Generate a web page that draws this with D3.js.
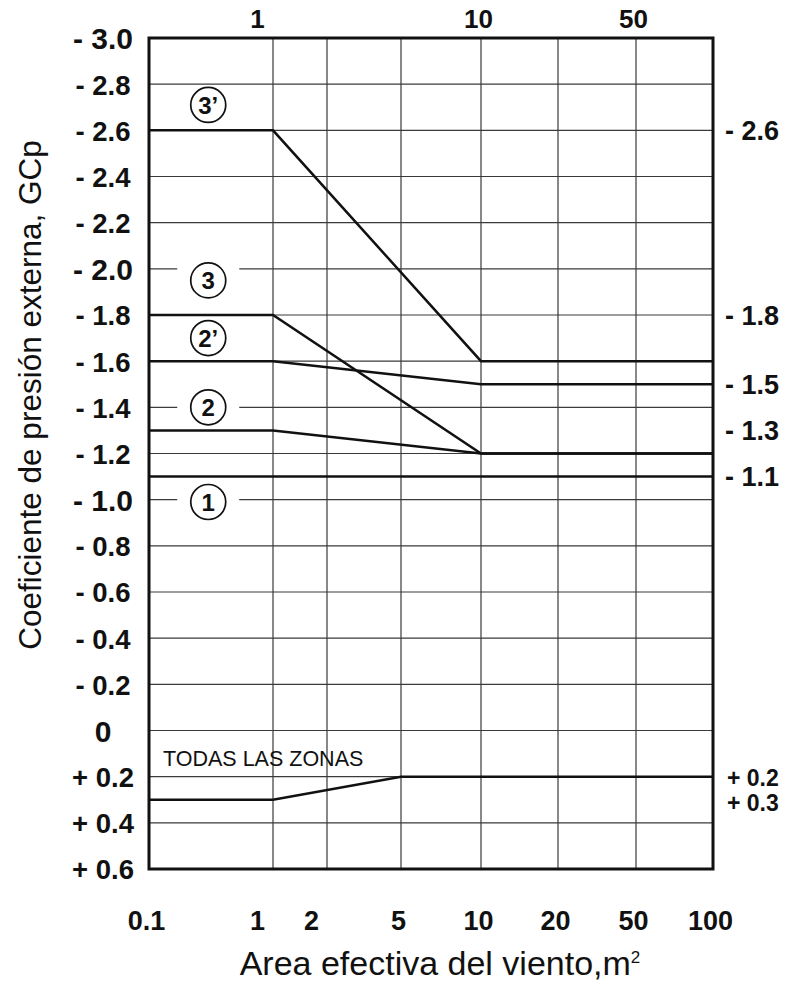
<!DOCTYPE html>
<html>
<head>
<meta charset="utf-8">
<script src="https://cdn.jsdelivr.net/npm/d3@7"></script>
<style>
  body { margin: 0; background: #fff; }
  text { font-family: "Liberation Sans", Arial, sans-serif; fill: #111; }
</style>
</head>
<body>
<script>

// tick values
var xTicks = [0.1, 1, 2, 5, 10, 20, 50, 100];
var xTopTicks = [1, 10, 50];
var yTicks = [-3.0, -2.8, -2.6, -2.4, -2.2, -2.0, -1.8, -1.6, -1.4, -1.2, -1.0,
              -0.8, -0.6, -0.4, -0.2, 0, 0.2, 0.4, 0.6];
var yMajor = [-3.0, -2.0, -1.0, 0];
var rightLabels = [-2.6, -1.8, -1.5, -1.3, -1.1];
var rightLabelsLow = [0.2, 0.3];

// zones: GCp at area 0.1, 1, 10, 100 (m2)
var zoneNames = ["3’", "3", "2’", "2", "1"];
var zoneAreas = [0.1, 1, 10, 100];
var zone3p = [-2.6, -2.6, -1.6, -1.6];
var zone3  = [-1.8, -1.8, -1.2, -1.2];
var zone2p = [-1.6, -1.6, -1.5, -1.5];
var zone2  = [-1.3, -1.3, -1.2, -1.2];
var zone1  = [-1.1, -1.1, -1.1, -1.1];

// positive pressure, all zones
var allAreas = [0.1, 1, 5, 100];
var allZones = [0.3, 0.3, 0.2, 0.2];

// circled zone markers (area, GCp)
var markerArea = 0.53;
var markerGCp = [-2.71, -1.95, -1.7, -1.4, -0.99];

var width = 803, height = 991;

// the printed x axis is not a true log axis, so each tick gets its own spot
var x = d3.scaleLinear()
    .domain(xTicks)
    .range([149, 273, 327, 401, 481, 558, 636, 713]);
var y = d3.scaleLinear().domain([-3.0, 0.6]).range([38, 869]);

var svg = d3.select("body").append("svg")
    .attr("width", width)
    .attr("height", height);

function fmtGCp(v) {
    if (Math.abs(v) < 1e-9) return "0";
    return (v < 0 ? "- " : "+ ") + Math.abs(v).toFixed(1);
}

function drawGrid() {
    var g = svg.append("g").attr("class", "grid");
    g.selectAll("line.h").data(yTicks).enter().append("line")
        .attr("x1", x(0.1)).attr("x2", x(100))
        .attr("y1", function(d) { return y(d); })
        .attr("y2", function(d) { return y(d); })
        .attr("stroke", "#3a3a3a").attr("stroke-width", 1.2);
    g.selectAll("line.v").data(xTicks.slice(1, -1)).enter().append("line")
        .attr("y1", y(-3.0)).attr("y2", y(0.6))
        .attr("x1", function(d) { return x(d); })
        .attr("x2", function(d) { return x(d); })
        .attr("stroke", "#3a3a3a").attr("stroke-width", 1.2);
}

function drawMarkers() {
    var g = svg.append("g").attr("class", "markers");
    var m = g.selectAll("g").data(zoneNames).enter().append("g")
        .attr("transform", function(d, i) {
            return "translate(" + x(markerArea) + "," + y(markerGCp[i]) + ")";
        });
    m.append("rect")
        .attr("x", -31).attr("y", -19).attr("width", 62).attr("height", 38)
        .attr("fill", "#fff");
    m.append("circle").attr("r", 17.5)
        .attr("fill", "#fff").attr("stroke", "#111").attr("stroke-width", 1.7);
    m.append("text")
        .attr("text-anchor", "middle").attr("dy", "0.37em")
        .attr("font-size", 24).attr("font-weight", "bold")
        .text(function(d) { return d; });
}

function drawLines() {
    var line = d3.line()
        .x(function(d) { return x(d[0]); })
        .y(function(d) { return y(d[1]); });
    var series = [zone3p, zone3, zone2p, zone2, zone1].map(function(s) {
        return zoneAreas.map(function(a, i) { return [a, s[i]]; });
    });
    series.push(allAreas.map(function(a, i) { return [a, allZones[i]]; }));
    svg.append("g").selectAll("path").data(series).enter().append("path")
        .attr("d", line)
        .attr("fill", "none").attr("stroke", "#111").attr("stroke-width", 2.5);

    svg.append("text")
        .attr("x", x(0.1) + 14).attr("y", y(0.2) - 11)
        .attr("font-size", 21.5)
        .text("TODAS LAS ZONAS");
}

function styleTicks(sel, size) {
    sel.attr("font-size", size).attr("font-weight", "bold").attr("fill", "#111")
        .attr("font-family", "Liberation Sans, Arial, sans-serif");
}

function drawAxes() {
    // frame
    svg.append("rect")
        .attr("x", x(0.1)).attr("y", y(-3.0))
        .attr("width", x(100) - x(0.1)).attr("height", y(0.6) - y(-3.0))
        .attr("fill", "none").attr("stroke", "#111").attr("stroke-width", 3);

    // bottom axis
    var xAxis = d3.axisBottom(x).tickValues(xTicks).tickSize(0).tickFormat(function(d) { return d; });
    var gb = svg.append("g").attr("transform", "translate(0,908)").call(xAxis);
    gb.select(".domain").remove();
    styleTicks(gb.selectAll("text"), 27);
    gb.selectAll("text")
        .attr("dx", function(d) { return (d === 1 || d === 2) ? -16 : -3; });

    // top axis
    var xTop = d3.axisTop(x).tickValues(xTopTicks).tickSize(0).tickFormat(function(d) { return d; });
    var gt = svg.append("g").attr("transform", "translate(0,28)").call(xTop);
    gt.select(".domain").remove();
    styleTicks(gt.selectAll("text"), 26);
    gt.selectAll("text")
        .attr("y", 0).attr("dy", 0)
        .attr("dx", function(d) { return d === 1 ? -16 : -3; });

    // left axis
    var yAxis = d3.axisLeft(y).tickValues(yTicks).tickSize(0).tickFormat(fmtGCp);
    var gl = svg.append("g").attr("transform", "translate(103,0)").call(yAxis);
    gl.select(".domain").remove();
    styleTicks(gl.selectAll("text"), 27);
    gl.selectAll("text")
        .attr("x", 0).attr("dy", "0.36em")
        .attr("text-anchor", "middle")
        .attr("font-size", function(d) { return yMajor.indexOf(d) >= 0 ? 30 : 27.5; });

    // right side values
    svg.append("g").selectAll("text").data(rightLabels).enter().append("text")
        .attr("x", 725).attr("y", function(d) { return y(d); })
        .attr("dy", "0.36em")
        .attr("font-size", 27).attr("font-weight", "bold")
        .text(fmtGCp);
    svg.append("g").selectAll("text").data(rightLabelsLow).enter().append("text")
        .attr("x", 727).attr("y", function(d) { return y(d) + (d > 0.25 ? 3 : 1); })
        .attr("dy", "0.36em")
        .attr("font-size", 23).attr("font-weight", "bold")
        .text(fmtGCp);

    // titles
    svg.append("text")
        .attr("transform", "translate(41,395) rotate(-90)")
        .attr("text-anchor", "middle")
        .attr("font-size", 31.5)
        .text("Coeficiente de presión externa, GCp");

    var t = svg.append("text")
        .attr("x", 440).attr("y", 975)
        .attr("text-anchor", "middle")
        .attr("font-size", 34)
        .text("Area efectiva del viento,m");
    t.append("tspan").attr("dy", -12).attr("font-size", 17).text("2");
}

drawGrid();
drawMarkers();
drawLines();
drawAxes();

</script>
</body>
</html>
